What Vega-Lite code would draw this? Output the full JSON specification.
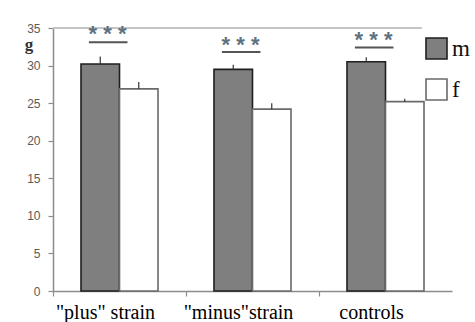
{
  "$schema": "https://vega.github.io/schema/vega-lite/v6.json",
  "width": 399,
  "height": 263,
  "autosize": {"type": "none"},
  "padding": {"left": 53, "top": 28, "right": 23, "bottom": 31},
  "background": "white",
  "config": {
    "view": {"stroke": null},
    "axisX": {
      "title": null, "labelAngle": 0,
      "labelFont": "Liberation Serif", "labelFontSize": 20, "labelColor": "#000",
      "labelBaseline": "alphabetic", "labelPadding": 22,
      "bandPosition": 0, "labelOffset": -14,
      "domainColor": "#8c8c8c", "domainWidth": 1.5,
      "tickColor": "#8c8c8c", "tickSize": 5, "tickWidth": 1.2
    },
    "axisY": {
      "grid": false, "labelOverlap": false,
      "titleAngle": 0, "titleX": -24.5, "titleY": 21,
      "titleAlign": "center", "titleBaseline": "alphabetic",
      "titleFont": "Liberation Serif", "titleFontSize": 17, "titleFontWeight": "bold",
      "titleColor": "#333",
      "labelFont": "Liberation Sans", "labelFontSize": 12, "labelColor": "#5a5a5a",
      "labelPadding": 8,
      "domainColor": "#8c8c8c", "domainWidth": 1.5,
      "tickColor": "#8c8c8c", "tickSize": 5, "tickWidth": 1.2
    }
  },
  "datasets": {
    "bars": [
      {"group": "\"plus\" strain", "sex": "m", "value": 30.2, "err": 31.2},
      {"group": "\"plus\" strain", "sex": "f", "value": 26.9, "err": 27.8},
      {"group": "\"minus\"strain", "sex": "m", "value": 29.5, "err": 30.1},
      {"group": "\"minus\"strain", "sex": "f", "value": 24.2, "err": 25.0},
      {"group": "controls", "sex": "m", "value": 30.5, "err": 31.1},
      {"group": "controls", "sex": "f", "value": 25.2, "err": 25.6}
    ],
    "sig": [
      {"group": "\"plus\" strain", "label": "* * *", "stars": 35.5, "line": 33.1},
      {"group": "\"minus\"strain", "label": "* * *", "stars": 34.1, "line": 31.8},
      {"group": "controls", "label": "* * *", "stars": 34.8, "line": 32.4}
    ]
  },
  "layer": [
    {
      "data": {"name": "bars"},
      "mark": {"type": "rule", "color": "#c4c4c4", "strokeWidth": 1.5},
      "encoding": {
        "x": {"datum": "\"plus\" strain", "type": "nominal", "bandPosition": 0},
        "x2": {"datum": "controls", "bandPosition": 0.77},
        "y": {"datum": 35, "type": "quantitative", "axis": {"values": [0, 5, 10, 15, 20, 25, 30, 35], "title": "g"}}
      }
    },
    {
      "data": {"name": "bars"},
      "mark": {"type": "bar", "strokeWidth": 1.6},
      "encoding": {
        "x": {
          "field": "group", "type": "nominal",
          "sort": ["\"plus\" strain", "\"minus\"strain", "controls"],
          "scale": {"paddingInner": 0, "paddingOuter": 0},
          "axis": {"bandPosition": 0, "labelOffset": -14}
        },
        "xOffset": {
          "field": "sex", "type": "nominal", "sort": ["m", "f"],
          "scale": {"paddingInner": 0, "paddingOuter": 0.727}
        },
        "y": {
          "field": "value", "type": "quantitative",
          "scale": {"domain": [0, 35], "nice": false},
          "axis": {"values": [0, 5, 10, 15, 20, 25, 30, 35], "title": "g"}
        },
        "fill": {
          "field": "sex", "type": "nominal",
          "scale": {"domain": ["m", "f"], "range": ["#7f7f7f", "#ffffff"]},
          "legend": {
            "title": null, "orient": "none", "legendX": 372, "legendY": 9,
            "padding": 0, "symbolType": "square", "symbolSize": 441,
            "symbolStrokeWidth": 1.6, "rowPadding": 12,
            "labelFont": "Liberation Serif", "labelFontSize": 23, "labelColor": "#111",
            "labelOffset": 4
          }
        },
        "stroke": {
          "field": "sex", "type": "nominal",
          "scale": {"domain": ["m", "f"], "range": ["#1f1f1f", "#6a6a6a"]}
        }
      }
    },
    {
      "data": {"name": "bars"},
      "mark": {"type": "rule", "color": "#333", "strokeWidth": 1.2},
      "encoding": {
        "x": {"field": "group", "type": "nominal", "sort": ["\"plus\" strain", "\"minus\"strain", "controls"]},
        "xOffset": {"field": "sex", "type": "nominal", "sort": ["m", "f"]},
        "y": {"field": "value", "type": "quantitative", "axis": {"values": [0, 5, 10, 15, 20, 25, 30, 35], "title": "g"}},
        "y2": {"field": "err"}
      }
    },
    {
      "data": {"name": "sig"},
      "mark": {"type": "text", "font": "Liberation Sans", "fontSize": 22, "fontWeight": "bold", "baseline": "top", "align": "center", "color": "#5f7282"},
      "encoding": {
        "x": {"field": "group", "type": "nominal", "sort": ["\"plus\" strain", "\"minus\"strain", "controls"], "bandPosition": 0.41},
        "y": {"field": "stars", "type": "quantitative", "axis": {"values": [0, 5, 10, 15, 20, 25, 30, 35], "title": "g"}},
        "text": {"field": "label"}
      }
    },
    {
      "data": {"name": "sig"},
      "mark": {"type": "rule", "color": "#555", "strokeWidth": 2},
      "encoding": {
        "x": {"field": "group", "type": "nominal", "sort": ["\"plus\" strain", "\"minus\"strain", "controls"], "bandPosition": 0.27},
        "x2": {"field": "group", "bandPosition": 0.56},
        "y": {"field": "line", "type": "quantitative", "axis": {"values": [0, 5, 10, 15, 20, 25, 30, 35], "title": "g"}}
      }
    }
  ]
}
